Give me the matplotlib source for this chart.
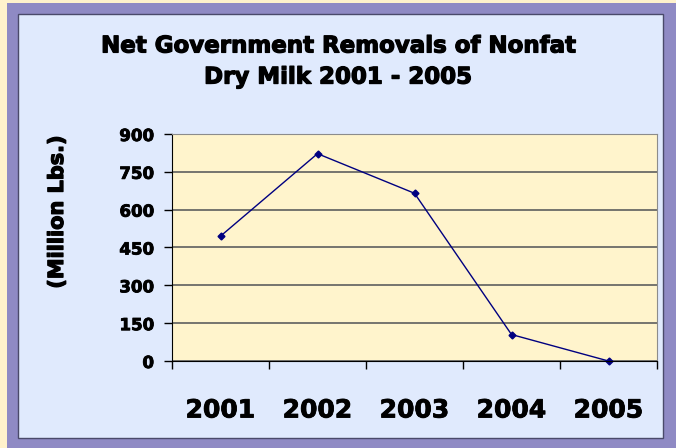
import matplotlib.pyplot as plt
import matplotlib.patheffects as pe
import numpy as np
from matplotlib.patches import Rectangle

# data
years = ["2001", "2002", "2003", "2004", "2005"]
removals = [495, 822, 665, 105, 0]
y_ticks = [0, 150, 300, 450, 600, 750, 900]

# thicken the bold text a little to look like Arial Black
heavy = [pe.withStroke(linewidth=0.9, foreground="black")]

fig = plt.figure(figsize=(6.76, 4.48), dpi=100, facecolor="#FFF2CC")

# purple frame and light blue panel
fig.patches.append(Rectangle((7 / 676, 0), 1, 445 / 448, transform=fig.transFigure,
                             facecolor="#8F8AC4", edgecolor="none", zorder=-2))
fig.patches.append(Rectangle((18 / 676, 10 / 448), 645 / 676, 424 / 448,
                             transform=fig.transFigure, facecolor="#E0EAFD",
                             edgecolor="#4A4A6A", linewidth=1, zorder=-1))

ax = fig.add_axes([172 / 676, 87 / 448, 485 / 676, 227 / 448])
ax.set_zorder(2)
ax.set_facecolor("#FFF4CC")

x = np.arange(len(years)) + 0.5
ax.plot(x, removals, color="#000080", linewidth=1, marker="D", markersize=3.5,
        clip_on=False)

ax.set_xlim(0, 5)
ax.set_ylim(0, 900)
ax.set_yticks(y_ticks)
ax.set_yticklabels([str(v) for v in y_ticks], fontsize=12, fontweight="bold")
ax.yaxis.grid(True, color="#5E5E5E", linewidth=1.2)
ax.set_axisbelow(True)

# labels at category centres, ticks at the boundaries
ax.set_xticks(x)
ax.set_xticklabels(years, fontsize=18, fontweight="bold")
ax.set_xticks(np.arange(6), minor=True)
ax.tick_params(axis="x", which="major", length=0, pad=27)
ax.tick_params(axis="x", which="minor", length=6, width=1, direction="out")
ax.tick_params(axis="y", length=6, width=1, pad=7)

for lab in ax.get_xticklabels() + ax.get_yticklabels():
    lab.set_path_effects([pe.withStroke(linewidth=0.6, foreground="black")])

for side in ["top", "right"]:
    ax.spines[side].set_color("#8C8C8C")
ax.spines["left"].set_color("black")
ax.spines["bottom"].set_color("black")

fig.text(0.5, 1 - 61.5 / 448, "Net Government Removals of Nonfat\nDry Milk 2001 - 2005",
         ha="center", va="center", fontsize=16.5, fontweight="bold", linespacing=1.45,
         path_effects=heavy)
fig.text(57 / 676, 1 - 212 / 448, "(Million Lbs.)", rotation=90, ha="center",
         va="center", fontsize=15, fontweight="bold", path_effects=heavy)

plt.savefig("out.png", dpi=100, facecolor=fig.get_facecolor())
